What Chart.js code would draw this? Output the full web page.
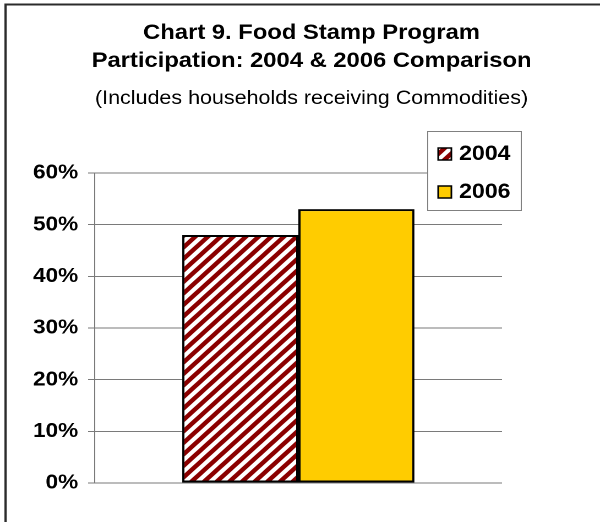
<!DOCTYPE html>
<html><head><meta charset="utf-8">
<script src="https://cdn.jsdelivr.net/npm/chart.js@4.4.1/dist/chart.umd.min.js"></script>
<style>
html,body{margin:0;padding:0;background:#fff;overflow:hidden}
#wrap{position:absolute;left:0;top:0;width:545px;height:522px;transform:scaleX(1.10092);transform-origin:0 0}
</style></head><body>
<div id="wrap"><canvas id="c"></canvas></div>
<script>
// Food Stamp Program participation, 2004 vs 2006 (percent of households)
const categories = [''];
const seriesLabels = ['2004', '2006'];
const participation2004 = [48];
const participation2006 = [53];
const yTickValues = [0, 10, 20, 30, 40, 50, 60];
const titleLines = ['Chart 9. Food Stamp Program', 'Participation: 2004 & 2006 Comparison'];
const subtitleText = '(Includes households receiving Commodities)';

const FONT = '"Liberation Sans", Arial, Helvetica, sans-serif';
const RED = '#8b0000';
const GOLD = '#ffcc00';

// diagonal "/" hatch used for the 2004 bar
function makeHatch(ctx) {
  const s = 11.4, k = 2;
  const t = document.createElement('canvas');
  t.width = Math.round(s * k); t.height = Math.round(s * k);
  const g = t.getContext('2d');
  const S = t.width;
  g.fillStyle = '#fff';
  g.fillRect(0, 0, S, S);
  g.strokeStyle = RED;
  g.lineWidth = 4.2 * k;
  g.lineCap = 'square';
  [[-S, S, S, -S], [0, S, S, 0], [0, 2 * S, 2 * S, 0]].forEach(([a, b, c, d]) => {
    g.beginPath(); g.moveTo(a, b); g.lineTo(c, d); g.stroke();
  });
  const p = ctx.createPattern(t, 'repeat');
  p.setTransform(new DOMMatrix().scale(1 / k));
  return p;
}

const canvas = document.getElementById('c');
const hatch = makeHatch(canvas.getContext('2d'));

const decorations = {
  id: 'decorations',
  beforeDraw(chart) {
    const ctx = chart.ctx;
    ctx.save();
    ctx.fillStyle = '#fff';
    ctx.fillRect(0, 0, chart.width, chart.height);
    ctx.restore();
  },
  afterDraw(chart) {
    const ctx = chart.ctx;
    ctx.save();
    // outer frame
    ctx.strokeStyle = '#2b2b2b';
    ctx.lineWidth = 2;
    ctx.strokeRect(5, 4.5, chart.width + 20, chart.height + 20);

    // titles
    ctx.fillStyle = '#000';
    ctx.textAlign = 'center';
    ctx.textBaseline = 'alphabetic';
    const cx = 283;
    ctx.font = 'bold 21.6px ' + FONT;
    ctx.fillText(titleLines[0], cx, 39);
    ctx.fillText(titleLines[1], cx, 67);
    ctx.font = '19.5px ' + FONT;
    ctx.fillText(subtitleText, cx, 104);

    // legend box
    const lx = 388, ly = 131, lw = 85, lh = 79;
    ctx.fillStyle = '#fff';
    ctx.fillRect(lx, ly, lw, lh);
    ctx.strokeStyle = '#808080';
    ctx.lineWidth = 1;
    ctx.strokeRect(lx + 0.5, ly + 0.5, lw, lh);
    const rows = [148, 186];
    chart.data.datasets.forEach((ds, i) => {
      const y = rows[i];
      ctx.fillStyle = ds.backgroundColor;
      ctx.fillRect(398, y, 12, 12);
      ctx.strokeStyle = '#000';
      ctx.lineWidth = 1.5;
      ctx.strokeRect(398, y, 12, 12);
      ctx.fillStyle = '#000';
      ctx.textAlign = 'left';
      ctx.font = 'bold 21px ' + FONT;
      ctx.fillText(ds.label, 417, y + 12);
    });
    ctx.restore();
  }
};

new Chart(canvas, {
  type: 'bar',
  data: {
    labels: categories,
    datasets: [
      { label: seriesLabels[0], data: participation2004, backgroundColor: hatch,
        borderColor: '#000', borderWidth: 2, borderSkipped: false },
      { label: seriesLabels[1], data: participation2006, backgroundColor: GOLD,
        borderColor: '#000', borderWidth: 2, borderSkipped: false }
    ]
  },
  options: {
    responsive: true,
    maintainAspectRatio: false,
    animation: false,
    devicePixelRatio: 2,
    layout: { padding: { top: 173, right: 89, bottom: 39, left: 0 } },
    plugins: { legend: { display: false }, title: { display: false }, tooltip: { enabled: false } },
    datasets: { bar: { barPercentage: 1, categoryPercentage: 0.57 } },
    scales: {
      x: { display: false },
      y: {
        min: yTickValues[0],
        max: yTickValues[yTickValues.length - 1],
        afterBuildTicks(scale) { scale.ticks = yTickValues.map(v => ({ value: v })); },
        afterFit(scale) { scale.width = 86; },
        ticks: {
          padding: 9,
          color: '#000',
          font: { family: FONT, size: 20.5, weight: 'bold' },
          callback: v => v + '%'
        },
        grid: { color: '#7a7a7a', lineWidth: 1, tickLength: 6, tickColor: '#7a7a7a' },
        border: { display: true, color: '#7a7a7a', width: 1 }
      }
    }
  },
  plugins: [decorations]
});
</script>
</body></html>
